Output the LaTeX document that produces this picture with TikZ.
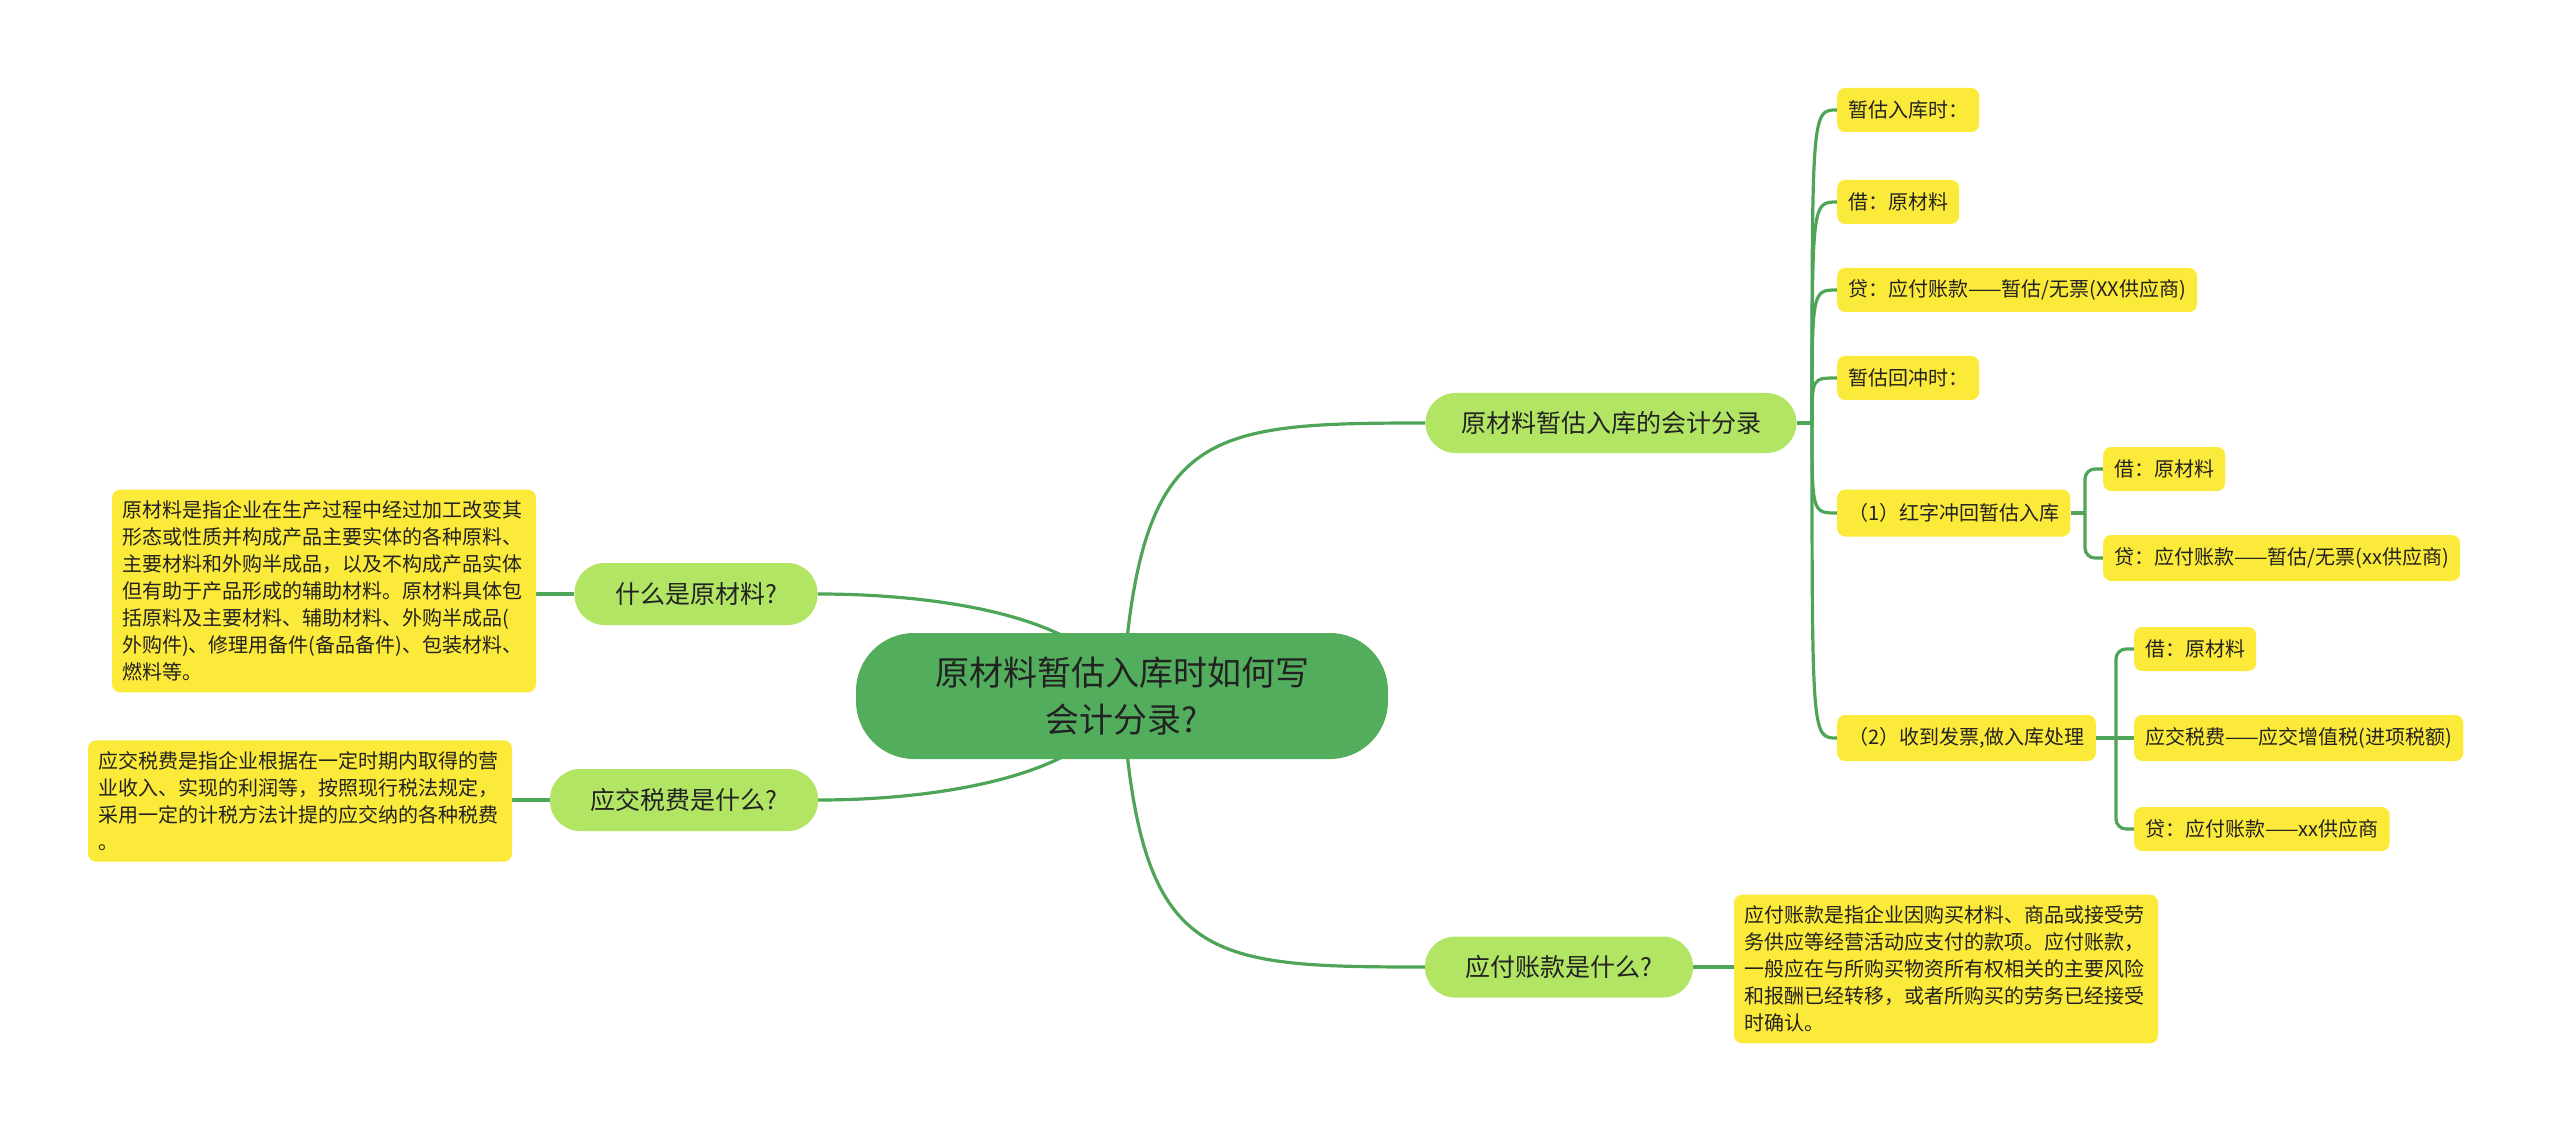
\documentclass[tikz,border=0pt]{standalone}
\usepackage{fontspec}
\setmainfont{Noto Sans CJK SC}
\definecolor{rootg}{RGB}{82,174,92}
\definecolor{lg}{RGB}{178,229,100}
\definecolor{yel}{RGB}{252,234,58}
\definecolor{lnk}{RGB}{78,165,88}
\definecolor{txt}{RGB}{34,34,34}
\pgfdeclarelayer{bg}
\pgfsetlayers{bg,main}
\begin{document}
\begin{tikzpicture}[x=1pt,y=-1pt,
  rootnode/.style={fill=rootg,rounded corners=58pt,minimum width=532pt,minimum height=126pt,align=center,text=txt,font=\fontsize{34}{47}\selectfont,inner sep=0pt},
  lone/.style={fill=lg,rounded corners=30pt,minimum height=60pt,inner sep=0pt,text=txt,font=\fontsize{25}{30}\selectfont},
  leaf/.style={fill=yel,rounded corners=8pt,minimum height=44pt,inner xsep=11pt,inner ysep=0pt,anchor=west,text=txt,font=\fontsize{20}{24}\selectfont},
  desc/.style={fill=yel,rounded corners=8pt,text width=404pt,inner xsep=10pt,inner ysep=11pt,align=left,text=txt,font=\fontsize{20}{27}\selectfont},
  link/.style={draw=lnk,line width=3.2pt}]
\useasboundingbox (0,0) rectangle (2560,1131);

\node[rootnode] (root) at (1122,696) {原材料暂估入库时如何写\\会计分录?};

\node[lone,minimum width=371pt] (a) at (1611,423) {原材料暂估入库的会计分录};
\node[lone,minimum width=268pt,minimum height=61pt] (b) at (1559,967) {应付账款是什么?};
\node[lone,minimum width=243pt,minimum height=62pt] (c) at (696,594) {什么是原材料?};
\node[lone,minimum width=268pt,minimum height=62pt] (d) at (684,800) {应交税费是什么?};

\node[leaf] (e1) at (1837,110) {暂估入库时：};
\node[leaf] (e2) at (1837,202) {借：原材料};
\node[leaf] (e3) at (1837,290) {贷：应付账款——暂估/无票(XX供应商)};
\node[leaf] (e4) at (1837,378) {暂估回冲时：};
\node[leaf,minimum height=47pt] (e5) at (1837,513) {（1）红字冲回暂估入库};
\node[leaf] (f1) at (2103,469) {借：原材料};
\node[leaf,minimum height=46pt] (f2) at (2103,558) {贷：应付账款——暂估/无票(xx供应商)};
\node[leaf,minimum height=46pt] (e6) at (1837,738) {（2）收到发票,做入库处理};
\node[leaf] (g1) at (2134,649) {借：原材料};
\node[leaf,minimum height=46pt] (g2) at (2134,738) {应交税费——应交增值税(进项税额)};
\node[leaf] (g3) at (2134,829) {贷：应付账款——xx供应商};

\node[desc] (d1) at (324,591) {原材料是指企业在生产过程中经过加工改变其\\形态或性质并构成产品主要实体的各种原料、\\主要材料和外购半成品，以及不构成产品实体\\但有助于产品形成的辅助材料。原材料具体包\\括原料及主要材料、辅助材料、外购半成品(\\外购件)、修理用备件(备品备件)、包装材料、\\燃料等。};
\node[desc] (d2) at (300,801) {应交税费是指企业根据在一定时期内取得的营\\业收入、实现的利润等，按照现行税法规定，\\采用一定的计税方法计提的应交纳的各种税费\\。};
\node[desc] (d3) at (1946,969) {应付账款是指企业因购买材料、商品或接受劳\\务供应等经营活动应支付的款项。应付账款，\\一般应在与所购买物资所有权相关的主要风险\\和报酬已经转移，或者所购买的劳务已经接受\\时确认。};

\coordinate (ja) at (1812,423);
\coordinate (j1) at (2085,513);
\coordinate (j2) at (2116,738);

\begin{pgfonlayer}{bg}
\draw[link] (root.center) .. controls (1140,430) and (1200,423) .. (a.west);
\draw[link] (root.center) .. controls (1140,962) and (1200,967) .. (b.west);
\draw[link] (root.center) .. controls (1100,620) and (950,594) .. (c.east);
\draw[link] (root.center) .. controls (1100,772) and (950,800) .. (d.east);
\draw[link] (c.west) -- (d1.east |- c.west);
\draw[link] (d.west) -- (d2.east |- d.west);
\draw[link] (b.east) -- (d3.west |- b.east);
\draw[link] (a.east) -- (ja);
\foreach \n in {e1,e2,e3,e4,e5,e6}{
  \draw[link] (ja) .. controls (ja |- \n.west) and (ja |- \n.west) .. (\n.west);
}
\draw[link] (e5.east) -- (j1);
\draw[link,rounded corners=10pt] (j1) |- (f1.west);
\draw[link,rounded corners=10pt] (j1) |- (f2.west);
\draw[link] (e6.east) -- (j2);
\draw[link,rounded corners=10pt] (j2) |- (g1.west);
\draw[link] (j2) -- (g2.west);
\draw[link,rounded corners=10pt] (j2) |- (g3.west);
\end{pgfonlayer}
\end{tikzpicture}
\end{document}
